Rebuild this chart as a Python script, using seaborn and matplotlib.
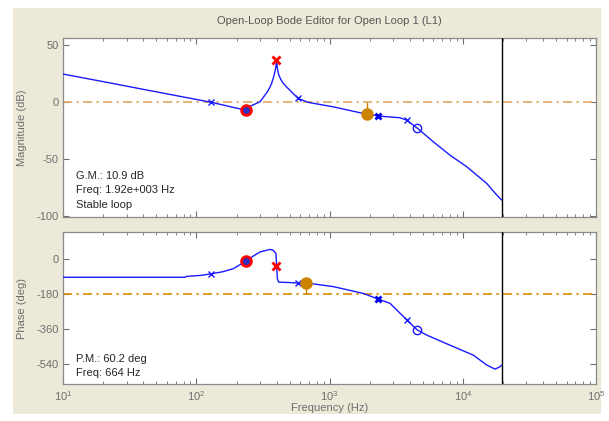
import seaborn as sns
import matplotlib.pyplot as plt
import matplotlib.patches as mpatches
import matplotlib.ticker as mticker
import pandas as pd

# ---------------------------
# Data read off the editor
# ---------------------------
mag_freq = [10, 18.9, 44.8, 130, 178, 234, 257, 300, 344, 365, 380, 390, 395, 400,
            405, 415, 430, 450, 475, 530, 581, 690, 1060, 1900, 2333, 3373, 3784,
            4550, 6000, 8000, 10690, 15100, 17950, 19540]
mag_db = [24.3, 18.2, 9.8, -0.5, -4.2, -7.3, -3.5, 0.0, 9.5, 15.5, 22.0, 27.5, 31.5, 36.6,
          29.0, 23.5, 19.5, 16.0, 13.0, 7.4, 3.0, -0.5, -4.4, -10.9, -12.5, -14.0, -16.1,
          -23.1, -35.1, -46.8, -57.0, -71.6, -81.8, -86.2]

ph_freq = [10, 82, 83.4, 109, 130, 159, 189, 234, 267, 300, 356, 378, 395, 400,
           405, 414, 533, 581, 661, 1064, 1786, 2291, 2838, 3802, 4550, 5346,
           8000, 11970, 15100, 17420, 19010, 19540]
ph_deg = [-92, -92, -88, -82, -74, -63, -48, -10, 17, 38, 51, 46, 29, -34,
          -100, -117, -120, -122, -121, -140, -175, -203, -226, -312, -363, -389,
          -441, -492, -543, -564, -552, -543]

# compensator / plant root markers
x_freq = [129, 583, 3793]
x_mag = [-0.5, 3.0, -16.1]
x_ph = [-73, -123, -312]
bold_x_freq = [2323]
bold_x_mag = [-12.5]
bold_x_ph = [-203]
o_freq = [4540]
o_mag = [-23.1]
o_ph = [-363]
red_o_freq = [234]
red_o_mag = [-7.3]
red_o_ph = [-9]
red_x_freq = [398]
red_x_mag = [36.6]
red_x_ph = [-34]

gm_freq, gm_db = 1920, -10.9
pm_freq, pm_deg = 664, -119.8
nyquist = 19700

mag_df = pd.DataFrame({"Frequency": mag_freq, "Magnitude": mag_db})
ph_df = pd.DataFrame({"Frequency": ph_freq, "Phase": ph_deg})

# ---------------------------
# Styling
# ---------------------------
sns.set_style("ticks")
plt.rcParams["font.family"] = ["Liberation Sans", "DejaVu Sans"]
plt.rcParams["axes.unicode_minus"] = False
gray = "#6e6e6e"
orange_light = "#dfaa62"
orange = "#d98c00"
dot_orange = "#cc8400"
dash = (5.5, 2.5, 1.5, 2.5)

fig = plt.figure(figsize=(6.09, 4.21), dpi=100, facecolor="white")
fig.patches.append(mpatches.Rectangle((13 / 609, 1 - 414 / 421), 588 / 609, 406 / 421,
                                      transform=fig.transFigure, facecolor="#ece9d8",
                                      edgecolor="none", zorder=-10))

ax1 = fig.add_axes([0.1039, 0.4834, 0.8749, 0.4264])
ax2 = fig.add_axes([0.1039, 0.0867, 0.8749, 0.3629])

# ---------------------------
# Magnitude
# ---------------------------
ax1.axhline(0, color=orange_light, lw=1.2, dashes=dash, zorder=1)
ax1.vlines(gm_freq, gm_db, 0, color=dot_orange, lw=1, zorder=2)
sns.lineplot(data=mag_df, x="Frequency", y="Magnitude", ax=ax1, color="#1a1aff",
             lw=1, sort=False, estimator=None, zorder=3)
ax1.plot(x_freq, x_mag, "x", color="#1a1aff", ms=4, mew=1, zorder=4)
ax1.plot(bold_x_freq, bold_x_mag, "x", color="#0000ee", ms=4.5, mew=2, zorder=4)
ax1.plot(o_freq, o_mag, "o", mfc="none", mec="#1a1aff", ms=6, mew=1, zorder=4)
ax1.plot(red_o_freq, red_o_mag, "o", mfc="#3030c0", mec="red", ms=7, mew=2, zorder=5)
ax1.plot(red_x_freq, red_x_mag, "x", color="red", ms=6, mew=2, zorder=5)
ax1.plot([gm_freq], [gm_db], "o", color=dot_orange, ms=8, zorder=5)
ax1.axvline(nyquist, color="black", lw=1, zorder=6)

ax1.text(0.024, 0.26, "G.M.: 10.9 dB\nFreq: 1.92e+003 Hz\nStable loop",
         transform=ax1.transAxes, fontsize=8, va="top", ha="left", linespacing=1.55)

ax1.set_ylim(-101.5, 56)
ax1.set_yticks([-100, -50, 0, 50])
ax1.set_ylabel("Magnitude (dB)", color=gray, fontsize=8)
ax1.yaxis.set_label_coords(-0.068, 0.5)
ax1.set_xlabel("")
ax1.set_title("Open-Loop Bode Editor for Open Loop 1 (L1)", color="#555555",
              fontsize=8, pad=10)

# ---------------------------
# Phase
# ---------------------------
ax2.axhline(-180, color=orange, lw=1.2, dashes=dash, zorder=1)
ax2.vlines(pm_freq, -180, pm_deg, color=dot_orange, lw=1, zorder=2)
sns.lineplot(data=ph_df, x="Frequency", y="Phase", ax=ax2, color="#1a1aff",
             lw=1, sort=False, estimator=None, zorder=3)
ax2.plot(x_freq, x_ph, "x", color="#1a1aff", ms=4, mew=1, zorder=4)
ax2.plot(bold_x_freq, bold_x_ph, "x", color="#0000ee", ms=4.5, mew=2, zorder=4)
ax2.plot(o_freq, o_ph, "o", mfc="none", mec="#1a1aff", ms=6, mew=1, zorder=4)
ax2.plot(red_o_freq, red_o_ph, "o", mfc="#3030c0", mec="red", ms=7, mew=2, zorder=5)
ax2.plot(red_x_freq, red_x_ph, "x", color="red", ms=6, mew=2, zorder=5)
ax2.plot([pm_freq], [pm_deg], "o", color=dot_orange, ms=8, zorder=5)
ax2.axvline(nyquist, color="black", lw=1, zorder=6)

ax2.text(0.024, 0.20, "P.M.: 60.2 deg\nFreq: 664 Hz",
         transform=ax2.transAxes, fontsize=8, va="top", ha="left", linespacing=1.5)

ax2.set_ylim(-643, 142)
ax2.set_yticks([-540, -360, -180, 0])
ax2.set_ylabel("Phase (deg)", color=gray, fontsize=8)
ax2.yaxis.set_label_coords(-0.068, 0.5)
ax2.set_xlabel("Frequency (Hz)", color=gray, fontsize=8, labelpad=0)

# ---------------------------
# Shared axis formatting
# ---------------------------
for ax in (ax1, ax2):
    ax.set_xscale("log")
    ax.set_xlim(10, 1e5)
    ax.set_facecolor("white")
    ax.xaxis.set_major_locator(mticker.LogLocator(base=10, numticks=10))
    ax.xaxis.set_minor_locator(mticker.LogLocator(base=10, subs=range(2, 10), numticks=10))
    ax.tick_params(which="both", direction="in", top=True, right=True,
                   colors=gray, labelsize=8, labelcolor=gray)
    ax.tick_params(which="major", length=4, width=0.8)
    ax.tick_params(which="minor", length=2.5, width=0.6)
    for s in ax.spines.values():
        s.set_color("#8a8a8a")
        s.set_linewidth(0.9)

ax1.tick_params(axis="x", which="both", labelbottom=False)
ax2.xaxis.set_major_formatter(mticker.LogFormatterMathtext())

fig.savefig("out.png", dpi=100)
